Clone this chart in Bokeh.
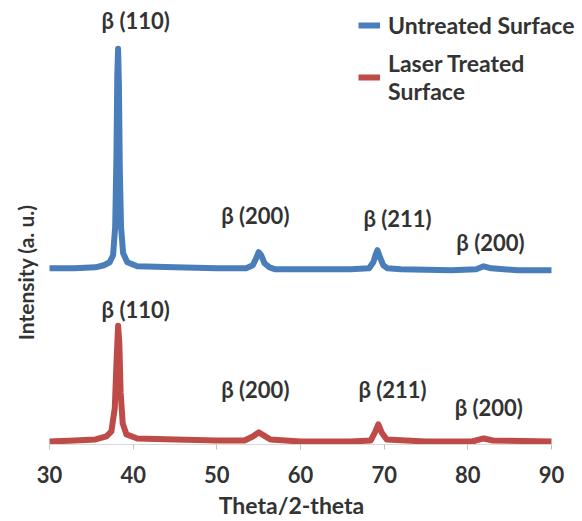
from bokeh.plotting import figure
from bokeh.models import Legend, LegendItem, Label, ColumnDataSource, FixedTicker
from bokeh.core.properties import value
from bokeh.embed import file_html
from bokeh.resources import INLINE
import math

# 2-theta (deg) and intensity (a.u.)
untreated_theta = [30.0, 33.0, 35.5, 36.5, 37.2, 37.6, 37.85, 38.0, 38.1, 38.2, 38.3, 38.4, 38.55, 38.8, 39.3, 40.5,
                   45.0, 50.0, 53.5, 54.3, 54.7, 55.0, 55.3, 55.7, 56.3, 57.0, 62.0, 66.0, 68.2, 68.7, 69.0, 69.2,
                   69.5, 69.9, 70.4, 72.0, 78.0, 81.0, 81.9, 82.8, 86.0, 90.0]
untreated_int = [175, 175, 176, 178, 181, 188, 216, 286, 366, 393, 356, 276, 216, 190, 181, 177,
                 176, 175, 175, 178, 185, 191, 188, 180, 176, 174, 174, 174, 175, 181, 189, 193,
                 186, 178, 175, 174, 173, 174, 177, 175, 173, 173]

treated_theta = [30.0, 33.0, 35.5, 36.8, 37.4, 37.8, 38.0, 38.2, 38.35, 38.5, 38.75, 39.2, 40.5, 45.0, 50.0,
                 53.3, 54.3, 55.0, 55.6, 56.4, 60.0, 66.0, 68.4, 68.9, 69.3, 69.7, 70.3, 75.0, 80.5, 81.9,
                 83.0, 90.0]
treated_int = [3, 4, 5, 8, 13, 36, 80, 118, 100, 52, 21, 10, 6, 5, 4,
               4, 8, 12, 9, 5, 3, 3, 4, 12, 20, 12, 5, 3, 3, 6,
               4, 3]

series_names = ["Untreated Surface", "Laser Treated\nSurface"]
series_colors = ["#4A7EBB", "#BE4B48"]

peak_labels = ["\u03b2 (110)", "\u03b2 (200)", "\u03b2 (211)", "\u03b2 (200)",
               "\u03b2 (110)", "\u03b2 (200)", "\u03b2 (211)", "\u03b2 (200)"]
label_x = [40.3, 54.6, 71.6, 82.7, 40.3, 54.6, 71.0, 82.5]
label_y = [421, 227, 224, 201, 134, 55, 55, 37]

x_ticks = [30, 40, 50, 60, 70, 80, 90]
x_min, x_max = 30, 90

FONT = "Lato"
TXT = "#333333"

PX_PER_DEG = 502 / 60.0
W, H = 582, 521
LEFT_PAD, RIGHT_PAD = 49, 31

p = figure(width=W, height=H,
           x_range=(x_min - LEFT_PAD / PX_PER_DEG, x_max + RIGHT_PAD / PX_PER_DEG),
           y_range=(0, 441),
           output_backend="svg", toolbar_location=None,
           min_border_left=0, min_border_right=0, min_border_top=0, min_border_bottom=60)
p.outline_line_color = None
p.grid.visible = False
p.yaxis.visible = False

r1 = p.line(untreated_theta, untreated_int, line_color=series_colors[0], line_width=6, line_join="round")
r2 = p.line(treated_theta, treated_int, line_color=series_colors[1], line_width=6, line_join="round")

src = ColumnDataSource(dict(x=label_x, y=label_y, t=peak_labels))
p.text(x="x", y="y", text="t", source=src, text_align="center", text_baseline="middle",
       text_font=value(FONT), text_font_style="bold", text_font_size="22px", text_color=TXT)

ax = p.xaxis[0]
ax.ticker = FixedTicker(ticks=x_ticks)
ax.bounds = (x_min, x_max)
ax.axis_line_color = "#D9D9D9"
ax.major_tick_line_color = "#BFBFBF"
ax.major_tick_out = 5
ax.major_tick_in = 0
ax.minor_tick_line_color = None
ax.major_label_text_font = FONT
ax.major_label_text_font_style = "bold"
ax.major_label_text_font_size = "22px"
ax.major_label_text_color = TXT
ax.major_label_standoff = 16
ax.axis_label = "Theta/2-theta"
ax.axis_label_text_font = FONT
ax.axis_label_text_font_style = "bold"
ax.axis_label_text_font_size = "23px"
ax.axis_label_text_color = TXT
ax.axis_label_standoff = 5

ylab = Label(x=x_min - 24 / PX_PER_DEG, y=171, text="Intensity (a. u.)",
             angle=math.pi / 2, text_align="center", text_baseline="middle",
             text_font=FONT, text_font_style="bold", text_font_size="21px", text_color=TXT)
p.add_layout(ylab)

legend = Legend(items=[LegendItem(label=series_names[0], renderers=[r1]),
                       LegendItem(label=series_names[1], renderers=[r2])],
                location=(358, 339), padding=0, margin=0, spacing=10,
                glyph_width=22, label_standoff=8, label_text_line_height=1.6,
                label_text_font=FONT, label_text_font_style="bold", label_text_font_size="23px",
                label_text_color=TXT, border_line_color=None, background_fill_alpha=0)
p.add_layout(legend)

open("out.html", "w").write(file_html(p, INLINE))
